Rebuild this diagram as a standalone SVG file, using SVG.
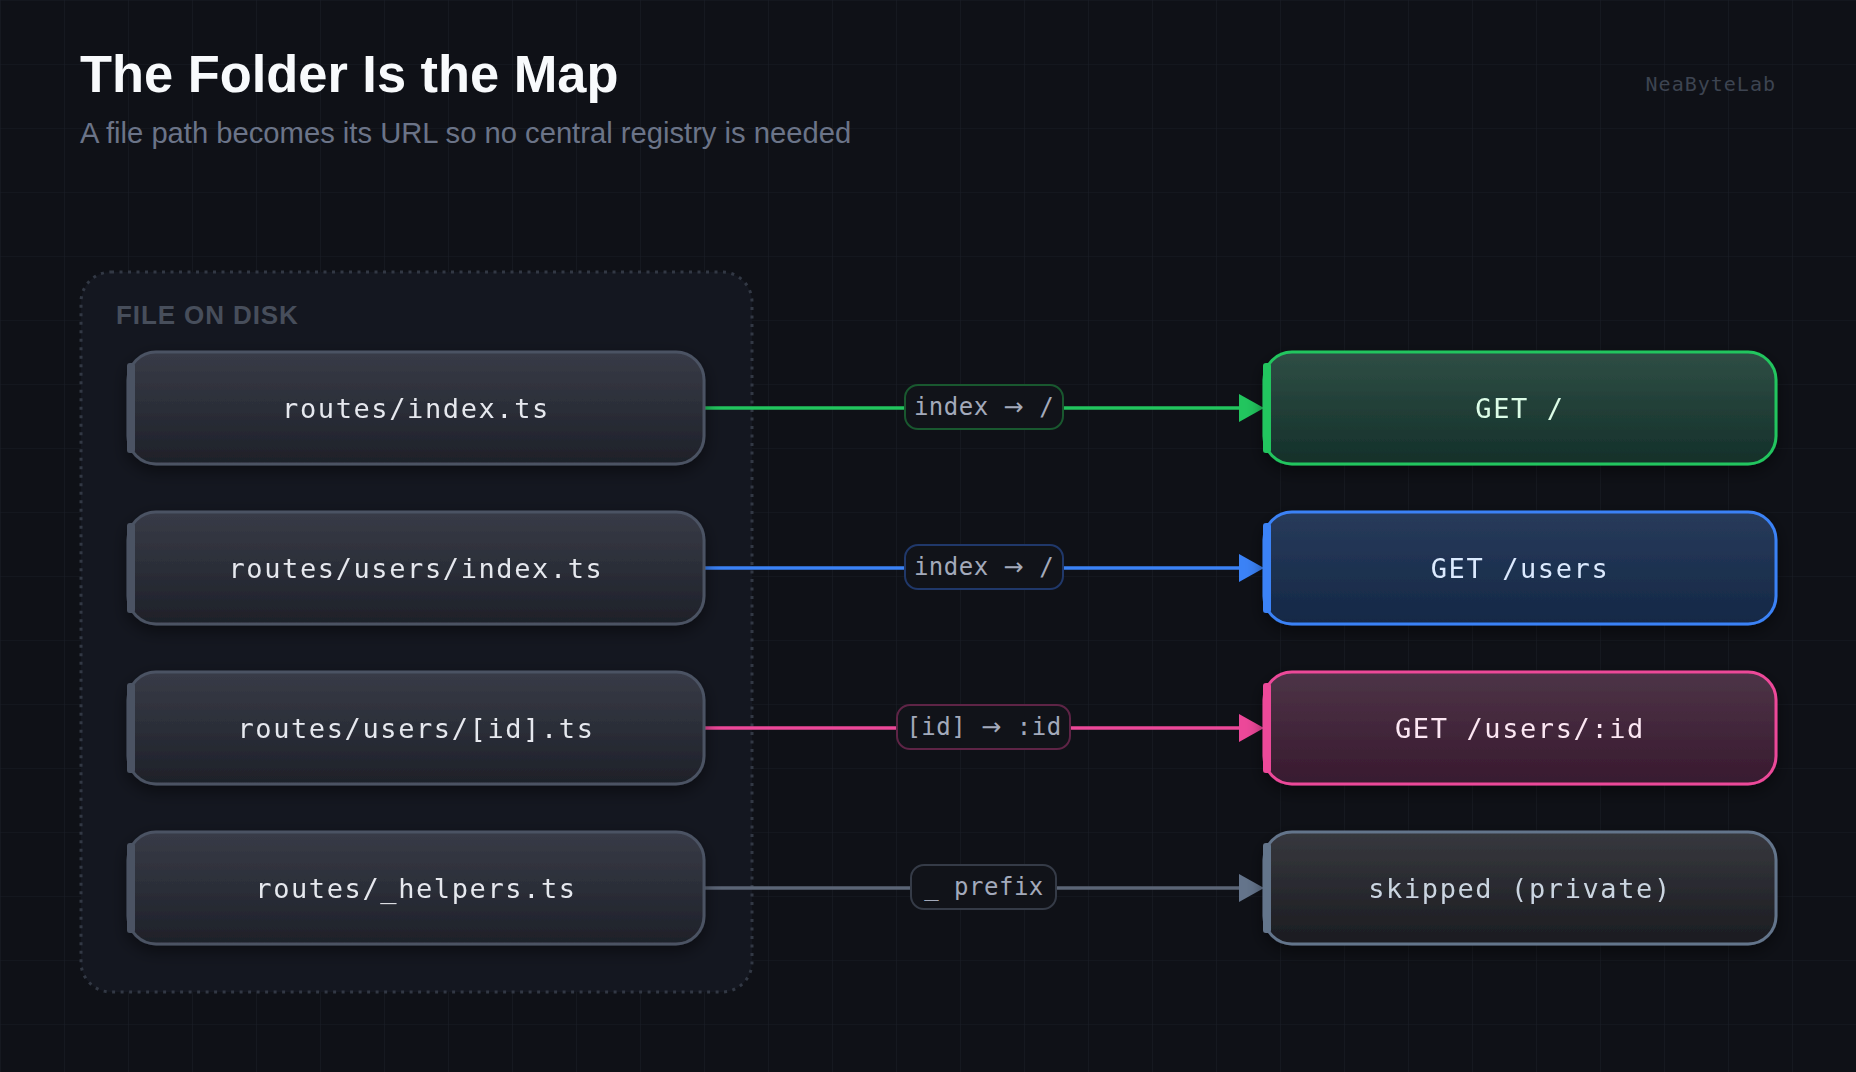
<svg xmlns="http://www.w3.org/2000/svg" width="1856" height="1072" viewBox="0 0 1856 1072">
  <style>
    .title { font-family: "Liberation Sans", Arial, sans-serif; font-weight: 700; font-size: 52.4px; fill: #f8fafc; }
    .subtitle { font-family: "Liberation Sans", Arial, sans-serif; font-size: 29.2px; fill: #6b7488; }
    .section { font-family: "Liberation Sans", Arial, sans-serif; font-weight: 700; font-size: 26px; letter-spacing: 0.9px; fill: #474e5b; }
    .mark { font-family: "DejaVu Sans Mono", "Liberation Mono", monospace; font-size: 20px; letter-spacing: 1px; fill: #3d4451; }
    .ntext { font-family: "DejaVu Sans Mono", "Liberation Mono", monospace; font-size: 27px; letter-spacing: 1.6px; text-anchor: middle; }
    .ltext { font-family: "DejaVu Sans Mono", "Liberation Mono", monospace; font-size: 24px; letter-spacing: 0.5px; text-anchor: middle; fill: #a3aabb; }
    .arw { font-family: "Noto Sans", "DejaVu Sans", sans-serif; }
    .file rect.body { fill: url(#gFile); stroke: #4b5363; stroke-width: 3; }
    .file .accent { fill: #4b5363; }
    .file text { fill: #e6e8ee; }
    .pill { fill: #111319; stroke-width: 2; }
    .conn { stroke-width: 3.5; fill: none; }
  </style>
  <defs>
    <pattern id="grid" width="64" height="64" patternUnits="userSpaceOnUse">
      <path d="M64 0 L0 0 L0 64" fill="none" stroke="#1a1d26" stroke-width="1.2"/>
    </pattern>
    <linearGradient id="gFile" x1="0" y1="0" x2="0" y2="1">
      <stop offset="0" stop-color="#383b47"/>
      <stop offset="1" stop-color="#1e2129"/>
    </linearGradient>
    <linearGradient id="gGreen" x1="0" y1="0" x2="0" y2="1">
      <stop offset="0" stop-color="#2f4e45"/>
      <stop offset="1" stop-color="#14302a"/>
    </linearGradient>
    <linearGradient id="gBlue" x1="0" y1="0" x2="0" y2="1">
      <stop offset="0" stop-color="#283b5b"/>
      <stop offset="1" stop-color="#142846"/>
    </linearGradient>
    <linearGradient id="gPink" x1="0" y1="0" x2="0" y2="1">
      <stop offset="0" stop-color="#4d3447"/>
      <stop offset="1" stop-color="#381a2f"/>
    </linearGradient>
    <linearGradient id="gGray" x1="0" y1="0" x2="0" y2="1">
      <stop offset="0" stop-color="#37383e"/>
      <stop offset="1" stop-color="#1b1c21"/>
    </linearGradient>
    <filter id="shadow" x="-10%" y="-20%" width="120%" height="150%">
      <feDropShadow dx="0" dy="6" stdDeviation="8" flood-color="#000000" flood-opacity="0.45"/>
    </filter>
    <marker id="aGreen" markerUnits="userSpaceOnUse" markerWidth="26" markerHeight="28" refX="0" refY="14" orient="auto">
      <path d="M0 0 L25 14 L0 28 Z" fill="#22c55e"/>
    </marker>
    <marker id="aBlue" markerUnits="userSpaceOnUse" markerWidth="26" markerHeight="28" refX="0" refY="14" orient="auto">
      <path d="M0 0 L25 14 L0 28 Z" fill="#3b82f6"/>
    </marker>
    <marker id="aPink" markerUnits="userSpaceOnUse" markerWidth="26" markerHeight="28" refX="0" refY="14" orient="auto">
      <path d="M0 0 L25 14 L0 28 Z" fill="#ec4899"/>
    </marker>
    <marker id="aGray" markerUnits="userSpaceOnUse" markerWidth="26" markerHeight="28" refX="0" refY="14" orient="auto">
      <path d="M0 0 L25 14 L0 28 Z" fill="#64748b"/>
    </marker>
  </defs>

  <rect width="1856" height="1072" fill="#0f1117"/>
  <rect width="1856" height="1072" fill="url(#grid)"/>

  <text class="title" x="80" y="92">The Folder Is the Map</text>
  <text class="subtitle" x="80" y="143">A file path becomes its URL so no central registry is needed</text>
  <text class="mark" x="1776" y="91" text-anchor="end">NeaByteLab</text>

  <g id="group-files">
    <rect x="81" y="272" width="671" height="720" rx="30" fill="#141720" stroke="#323844" stroke-width="3" stroke-dasharray="3 5.5"/>
    <text class="section" x="116" y="324">FILE ON DISK</text>
  </g>

  <g id="connectors">
    <line class="conn" x1="704" y1="408" x2="1239" y2="408" stroke="#22c55e" marker-end="url(#aGreen)"/>
    <line class="conn" x1="704" y1="568" x2="1239" y2="568" stroke="#3b82f6" marker-end="url(#aBlue)"/>
    <line class="conn" x1="704" y1="728" x2="1239" y2="728" stroke="#ec4899" marker-end="url(#aPink)"/>
    <line class="conn" x1="704" y1="888" x2="1239" y2="888" stroke="#5b6576" marker-end="url(#aGray)"/>
    <g id="label-1">
      <rect class="pill" x="905" y="385" width="158" height="44" rx="13" stroke="#19582f"/>
      <text class="ltext" x="984" y="415">index <tspan class="arw">→</tspan> /</text>
    </g>
    <g id="label-2">
      <rect class="pill" x="905" y="545" width="158" height="44" rx="13" stroke="#20386a"/>
      <text class="ltext" x="984" y="575">index <tspan class="arw">→</tspan> /</text>
    </g>
    <g id="label-3">
      <rect class="pill" x="897" y="705" width="173" height="44" rx="13" stroke="#5e2446"/>
      <text class="ltext" x="984" y="735">[id] <tspan class="arw">→</tspan> :id</text>
    </g>
    <g id="label-4">
      <rect class="pill" x="911" y="865" width="145" height="44" rx="13" stroke="#353b47"/>
      <text class="ltext" x="984" y="895">_ prefix</text>
    </g>
  </g>

  <g id="file-index" class="file" filter="url(#shadow)">
    <rect class="body" x="128" y="352" width="576" height="112" rx="28"/>
    <rect class="accent" x="127" y="363" width="8" height="90" rx="3"/>
    <text x="416" y="418" class="ntext">routes/index.ts</text>
  </g>
  <g id="file-users-index" class="file" filter="url(#shadow)">
    <rect class="body" x="128" y="512" width="576" height="112" rx="28"/>
    <rect class="accent" x="127" y="523" width="8" height="90" rx="3"/>
    <text x="416" y="578" class="ntext">routes/users/index.ts</text>
  </g>
  <g id="file-users-id" class="file" filter="url(#shadow)">
    <rect class="body" x="128" y="672" width="576" height="112" rx="28"/>
    <rect class="accent" x="127" y="683" width="8" height="90" rx="3"/>
    <text x="416" y="738" class="ntext">routes/users/[id].ts</text>
  </g>
  <g id="file-helpers" class="file" filter="url(#shadow)">
    <rect class="body" x="128" y="832" width="576" height="112" rx="28"/>
    <rect class="accent" x="127" y="843" width="8" height="90" rx="3"/>
    <text x="416" y="898" class="ntext">routes/_helpers.ts</text>
  </g>

  <g id="route-root" filter="url(#shadow)">
    <rect x="1264" y="352" width="512" height="112" rx="28" fill="url(#gGreen)" stroke="#22c55e" stroke-width="3"/>
    <rect x="1263" y="363" width="8" height="90" rx="3" fill="#22c55e"/>
    <text x="1520" y="418" class="ntext" fill="#dcfce7">GET /</text>
  </g>
  <g id="route-users" filter="url(#shadow)">
    <rect x="1264" y="512" width="512" height="112" rx="28" fill="url(#gBlue)" stroke="#3b82f6" stroke-width="3"/>
    <rect x="1263" y="523" width="8" height="90" rx="3" fill="#3b82f6"/>
    <text x="1520" y="578" class="ntext" fill="#dbeafe">GET /users</text>
  </g>
  <g id="route-user-id" filter="url(#shadow)">
    <rect x="1264" y="672" width="512" height="112" rx="28" fill="url(#gPink)" stroke="#ec4899" stroke-width="3"/>
    <rect x="1263" y="683" width="8" height="90" rx="3" fill="#ec4899"/>
    <text x="1520" y="738" class="ntext" fill="#fce7f3">GET /users/:id</text>
  </g>
  <g id="route-skipped" filter="url(#shadow)">
    <rect x="1264" y="832" width="512" height="112" rx="28" fill="url(#gGray)" stroke="#64748b" stroke-width="3"/>
    <rect x="1263" y="843" width="8" height="90" rx="3" fill="#64748b"/>
    <text x="1520" y="898" class="ntext" fill="#cbd5e1">skipped (private)</text>
  </g>
</svg>
